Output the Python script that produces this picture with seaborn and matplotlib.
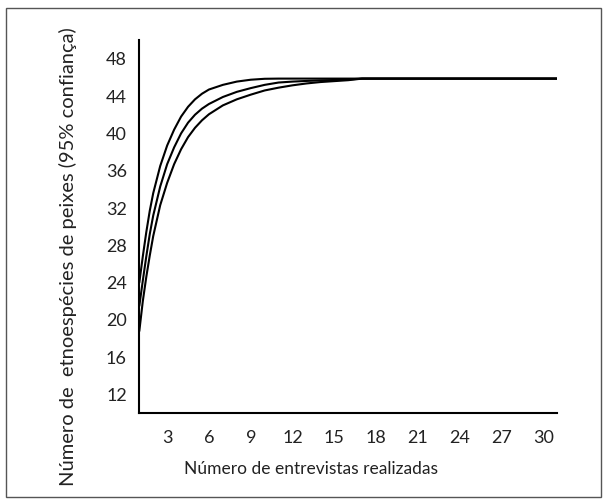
import matplotlib
matplotlib.use("Agg")
import matplotlib.pyplot as plt
import seaborn as sns
import pandas as pd
from matplotlib.patches import Rectangle

# ---- data ----
entrevistas = [1, 1.25, 1.5, 1.75, 2, 2.5, 3, 3.5, 4, 4.5, 5, 5.5, 6, 7, 8, 9,
               10, 11, 12, 13, 14, 15, 16, 17, 20, 25, 31]
limite_superior = [24.0, 26.8, 29.4, 31.7, 33.6, 36.5, 38.7, 40.4, 41.8, 42.85,
                   43.65, 44.25, 44.7, 45.2, 45.55, 45.75, 45.85, 45.87, 45.87,
                   45.87, 45.87, 45.87, 45.87, 45.87, 45.87, 45.87, 45.87]
media = [21.5, 24.2, 26.8, 29.2, 31.2, 34.3, 36.7, 38.5, 40.0, 41.15, 42.0,
         42.65, 43.15, 43.9, 44.45, 44.85, 45.2, 45.45, 45.55, 45.62, 45.68,
         45.72, 45.78, 45.87, 45.87, 45.87, 45.87]
limite_inferior = [18.8, 22.0, 24.6, 26.9, 29.0, 32.3, 34.7, 36.7, 38.3, 39.6,
                   40.6, 41.4, 42.05, 43.0, 43.65, 44.15, 44.6, 44.9, 45.15,
                   45.35, 45.5, 45.6, 45.7, 45.87, 45.87, 45.87, 45.87]
x_ticks = [3, 6, 9, 12, 15, 18, 21, 24, 27, 30]
y_ticks = [12, 16, 20, 24, 28, 32, 36, 40, 44, 48]

rows = []
for nome, serie in [("sup", limite_superior), ("med", media), ("inf", limite_inferior)]:
    for xv, yv in zip(entrevistas, serie):
        rows.append({"x": xv, "y": yv, "curva": nome})
df = pd.DataFrame(rows)

sns.set_style("white")
plt.rcParams["font.family"] = ["Lato", "DejaVu Sans"]

fig = plt.figure(figsize=(6.07, 5.04), dpi=100)
ax = fig.add_axes([0.2295, 0.180, 0.6885, 0.7405])

sns.lineplot(data=df, x="x", y="y", hue="curva",
             palette={"sup": "black", "med": "black", "inf": "black"},
             linewidth=1.5, legend=False, ax=ax, sort=True, estimator=None)

ax.set_xlim(1, 31)
ax.set_ylim(10, 50)
ax.set_xticks(x_ticks)
ax.set_yticks(y_ticks)
ax.set_xticklabels([str(v) for v in x_ticks])
ax.set_yticklabels([str(v) for v in y_ticks])

for s in ["top", "right"]:
    ax.spines[s].set_visible(False)
for s in ["left", "bottom"]:
    ax.spines[s].set_linewidth(1.5)
    ax.spines[s].set_color("black")

ax.tick_params(axis="both", direction="out", length=5, width=1.0,
               labelsize=13, colors="black", pad=4)
ax.tick_params(axis="x", pad=7)
for lab in ax.get_xticklabels() + ax.get_yticklabels():
    lab.set_color("#222222")

ax.set_xlabel("Número de entrevistas realizadas", fontsize=12.5, color="#222222")
ax.set_ylabel("Número de  etnoespécies de peixes (95% confiança)", fontsize=14.5,
              color="#222222")
ax.xaxis.set_label_coords(0.412, -0.128)
ax.yaxis.set_label_coords(-0.148, 0.42)

# outer frame around the figure
fig.patches.append(Rectangle((6 / 607, 1 - 497 / 504), 595 / 607, 489 / 504,
                             transform=fig.transFigure, fill=False,
                             edgecolor="#555555", linewidth=1.0))

fig.savefig("out.png", dpi=100)
